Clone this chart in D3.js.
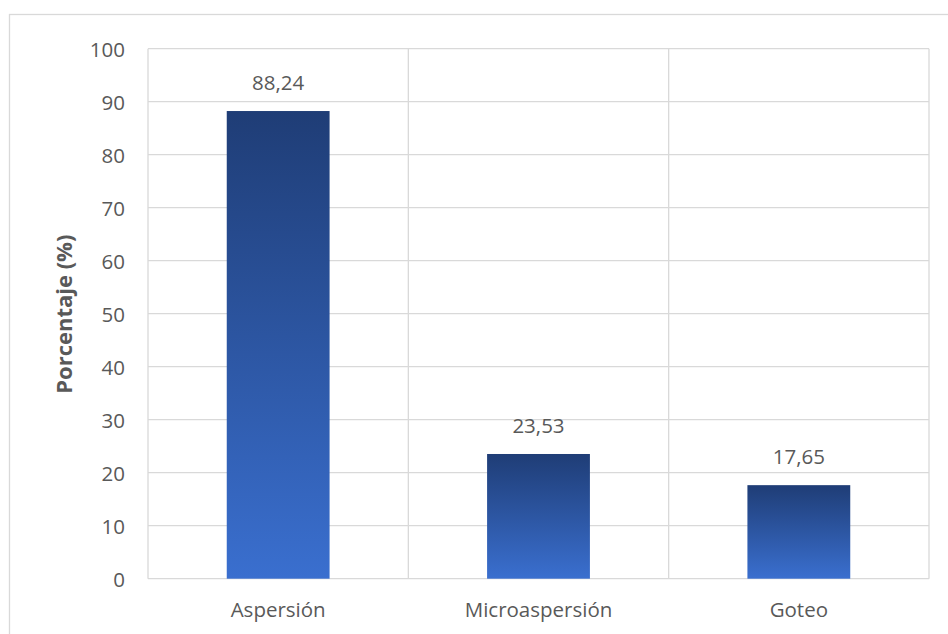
<!DOCTYPE html>
<html>
<head>
<meta charset="utf-8">
<script src="https://cdn.jsdelivr.net/npm/d3@7/dist/d3.min.js"></script>
<style>
  html, body { margin: 0; padding: 0; background: #fff; }
  svg { display: block; }
  text { font-family: "Open Sans", Lato, "Liberation Sans", sans-serif; fill: #595959; }
</style>
</head>
<body>
<svg id="chart" width="948" height="634"></svg>
<script>
// Irrigation methods and their share (%)
const categories = ["Aspersión", "Microaspersión", "Goteo"];
const values = [88.24, 23.53, 17.65];
const valueLabels = ["88,24", "23,53", "17,65"];
const yTicks = [0, 10, 20, 30, 40, 50, 60, 70, 80, 90, 100];
const yTitle = "Porcentaje (%)";

const svg = d3.select("#chart");
const W = 948, H = 634;
const plot = { left: 148, right: 929, top: 48.7, bottom: 578.7 };

// outer chart frame
svg.append("rect")
  .attr("x", 9.5).attr("y", 14.5)
  .attr("width", W).attr("height", H)
  .attr("fill", "none").attr("stroke", "#d9d9d9").attr("stroke-width", 1.3);

const x = d3.scaleBand().domain(categories).range([plot.left, plot.right]).paddingInner(0).paddingOuter(0);
const y = d3.scaleLinear().domain([0, 100]).range([plot.bottom, plot.top]);

const defs = svg.append("defs");
const grad = defs.append("linearGradient")
  .attr("id", "barGrad").attr("x1", 0).attr("y1", 0).attr("x2", 0).attr("y2", 1);
grad.append("stop").attr("offset", "0%").attr("stop-color", "#1f3d76");
grad.append("stop").attr("offset", "100%").attr("stop-color", "#3a6fcf");

// horizontal gridlines
svg.append("g").selectAll("line").data(yTicks).join("line")
  .attr("x1", plot.left).attr("x2", plot.right)
  .attr("y1", d => y(d)).attr("y2", d => y(d))
  .attr("stroke", "#d9d9d9").attr("stroke-width", 1.3);

// vertical gridlines at category boundaries
const bounds = categories.map(c => x(c)).concat([x(categories[categories.length - 1]) + x.bandwidth()]);
svg.append("g").selectAll("line").data(bounds).join("line")
  .attr("x1", d => d).attr("x2", d => d)
  .attr("y1", plot.top).attr("y2", plot.bottom)
  .attr("stroke", "#d9d9d9").attr("stroke-width", 1.3);

// y tick labels
svg.append("g").selectAll("text").data(yTicks).join("text")
  .attr("x", 125).attr("y", d => y(d))
  .attr("text-anchor", "end").attr("dominant-baseline", "central")
  .style("font-size", "20.5px")
  .text(d => d);

// y axis title
svg.append("text")
  .attr("transform", `translate(72,${(plot.top + plot.bottom) / 2 + 0.5}) rotate(-90)`)
  .attr("text-anchor", "middle")
  .style("font-size", "22px").style("font-weight", "bold")
  .text(yTitle);

// bars
const barW = x.bandwidth() * 0.395;
svg.append("g").selectAll("rect").data(values).join("rect")
  .attr("x", (d, i) => x(categories[i]) + x.bandwidth() / 2 - barW / 2)
  .attr("y", d => y(d))
  .attr("width", barW)
  .attr("height", d => plot.bottom - y(d))
  .attr("fill", "url(#barGrad)");

// value labels
svg.append("g").selectAll("text").data(values).join("text")
  .attr("x", (d, i) => x(categories[i]) + x.bandwidth() / 2)
  .attr("y", d => y(d) - 21)
  .attr("text-anchor", "middle")
  .style("font-size", "20.5px")
  .text((d, i) => valueLabels[i]);

// category labels
svg.append("g").selectAll("text").data(categories).join("text")
  .attr("x", d => x(d) + x.bandwidth() / 2)
  .attr("y", 617)
  .attr("text-anchor", "middle")
  .style("font-size", "20.5px")
  .text(d => d);
</script>
</body>
</html>
